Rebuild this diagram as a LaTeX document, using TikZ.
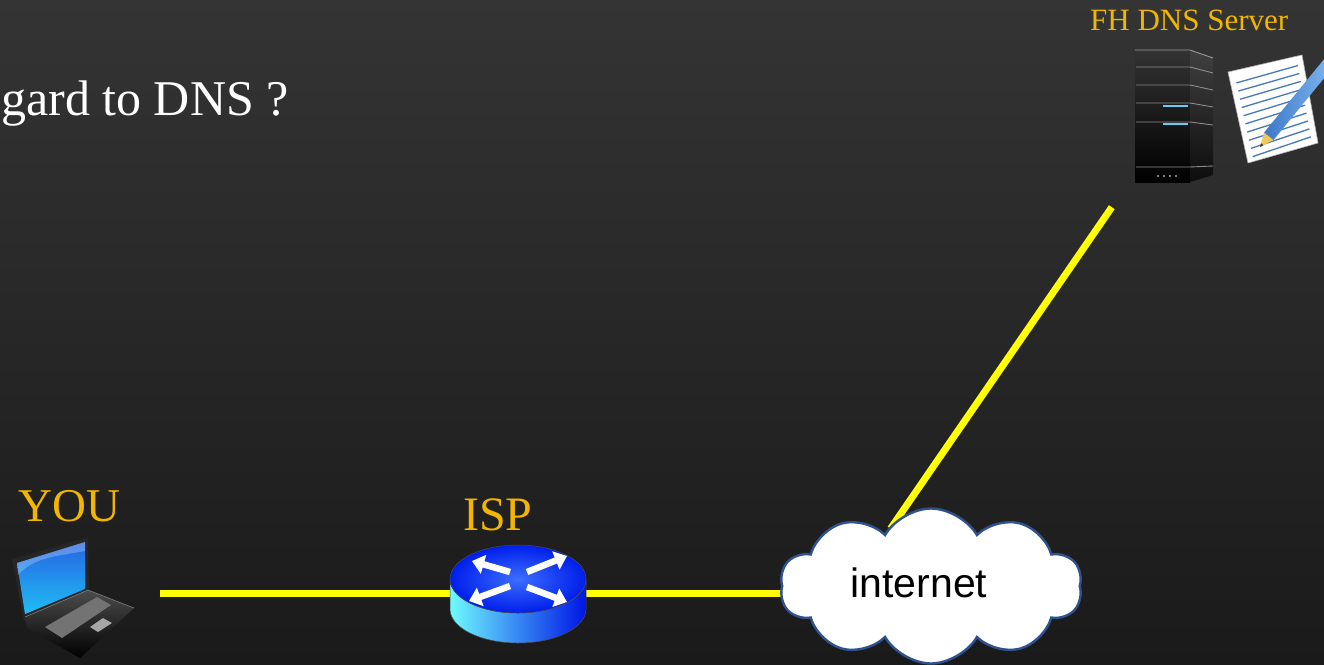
\documentclass[tikz,border=0pt]{standalone}
\usepackage{fontspec}
\setmainfont{Liberation Serif}
\newfontfamily\arialfont{Liberation Sans}
\usetikzlibrary{shapes.symbols,arrows.meta,calc}
\definecolor{gold}{RGB}{242,182,0}
\definecolor{linkyellow}{RGB}{255,255,0}
\definecolor{cloudedge}{RGB}{47,82,143}
\definecolor{notelines}{RGB}{70,120,190}
\definecolor{bgtop}{RGB}{52,52,52}
\definecolor{bgbottom}{RGB}{26,26,26}
\definecolor{screentop}{RGB}{40,100,225}
\definecolor{screenbottom}{RGB}{30,190,245}
\definecolor{routerlight}{RGB}{110,250,255}
\definecolor{routerdark}{RGB}{0,20,230}
\definecolor{routertopin}{RGB}{60,110,255}
\definecolor{routertopout}{RGB}{0,30,235}
\definecolor{pencilwood}{RGB}{240,200,90}
\definecolor{pencillead}{RGB}{60,50,20}
\definecolor{pencildark}{RGB}{60,120,200}
\definecolor{pencillight}{RGB}{130,185,240}
\pgfdeclarelayer{bg}
\pgfsetlayers{bg,main}
\tikzset{
  label/.style={text=gold, inner sep=0pt, anchor=base west},
  link/.style={draw=linkyellow, line width=7pt},
  anchorbox/.style={rectangle, inner sep=0pt, draw=none},
  netcloud/.style={cloud, cloud puffs=10, cloud puff arc=120, aspect=1.95,
    minimum width=302pt, minimum height=155pt, inner sep=0pt,
    fill=white, draw=cloudedge, line width=2.4pt},
  routerarrow/.style={white, line width=6.5pt, -{Triangle[length=12pt,width=19pt]}},
}
\begin{document}
\begin{tikzpicture}[x=1pt,y=-1pt]
\useasboundingbox (0,0) rectangle (1324,664);
\clip (0,0) rectangle (1324,664);
\begin{pgfonlayer}{bg}
  \shade[top color=bgtop, bottom color=bgbottom] (0,0) rectangle (1324,664);
\end{pgfonlayer}

% heading line, running in from the left edge
\node[text=white, inner sep=0pt, anchor=base west, font=\fontsize{50}{54}\selectfont] (title) at (1,115) {gard to DNS ?};

% ---------- laptop ----------
\node[anchorbox, minimum width=148pt, minimum height=104pt] (laptop) at (86,593) {};
\fill[black!85] (12,559) -- (88,537) -- (89,592) -- (24,621) -- cycle;
\shade[top color=screentop, bottom color=screenbottom]
  (17,563) -- (85,542) -- (85,589) -- (25,614) -- cycle;
\fill[white, opacity=0.25] (17,563) -- (85,542) -- (85,551) .. controls (60,556) and (35,556) .. (18,575) -- cycle;
\shade[top color=black!70, bottom color=black] (25,617) -- (88,590) -- (134,608) -- (80,658) -- (27,628) -- cycle;
\draw[black!50, line width=0.6pt] (25,617) -- (88,590) -- (134,608);
\fill[black!55] (45,627) -- (97,597) -- (111,605) -- (62,638) -- cycle;
\fill[black!35] (90,627) -- (103,618) -- (112,623) -- (98,632) -- cycle;
\node[label, font=\fontsize{47}{50}\selectfont] (you) at (18,521) {YOU};

% ---------- router ----------
\node[anchorbox, minimum width=134pt, minimum height=100pt] (router) at (518,593) {};
\shade[left color=routerlight, right color=routerdark, draw=black!70, line width=0.5pt]
  (450,579) -- (450,609) arc[start angle=180, end angle=0, x radius=68, y radius=34]
  -- (586,579) arc[start angle=0, end angle=180, x radius=68, y radius=34] -- cycle;
\shade[inner color=routertopin, outer color=routertopout, draw=black!70, line width=0.5pt]
  (518,579) ellipse[x radius=68, y radius=34];
\draw[routerarrow] (510,572) -- (472,561);
\draw[routerarrow] (527,572) -- (567,556);
\draw[routerarrow] (510,586) -- (469,601);
\draw[routerarrow] (527,587) -- (567,602);
\node[label, font=\fontsize{48}{52}\selectfont] (isp) at (463,530) {ISP};

% ---------- internet cloud ----------
\node[netcloud] (cloud) at (931,586) {};
\node[inner sep=0pt, anchor=base, font=\arialfont\fontsize{41}{45}\selectfont] (net) at (919,597) {internet};

% ---------- DNS server with zone file ----------
\node[anchorbox, minimum width=212pt, minimum height=167pt] (dns) at (1218,123.5) {};
% tower
\shade[top color=black!80, bottom color=black] (1135,50) rectangle (1190,182);
\shade[top color=black!75, bottom color=black!95] (1190,50) -- (1213,58) -- (1213,175) -- (1190,182) -- cycle;
\foreach \yy/\ys in {67/73, 85/90, 103/107, 122/125, 167/166} {
  \draw[black!45, line width=0.9pt] (1136,\yy) -- (1190,\yy) -- (1213,\ys);
}
\draw[black!40, line width=0.9pt] (1135,50) -- (1190,50) -- (1213,58);
\draw[cyan!60!white, line width=1.8pt] (1163,106) -- (1188,106);
\draw[cyan!60!white, line width=1.8pt] (1163,124) -- (1188,124);
\foreach \xx in {1157,1163,1169,1175} { \fill[black!50] (\xx,175) rectangle ++(2,2); }
% zone file sheet
\fill[white, draw=black!30, line width=0.6pt] (1228,72) -- (1302,55) -- (1318,143) -- (1248,163) -- cycle;
\foreach \t in {0.12,0.21,...,0.95} {
  \draw[notelines, line width=1.3pt]
    ($(1228,72)!\t!(1248,163) + (6,0)$) -- ($(1302,55)!\t!(1318,143) + (-6,0)$);
}
% pencil
\fill[pencilwood] (1260,147) -- (1273.5,140) -- (1264.2,132.4) -- cycle;
\fill[pencillead] (1260,147) -- (1263.4,145.2) -- (1261.0,143.3) -- cycle;
\shade[left color=pencildark, right color=pencillight]
  (1264.2,132.4) -- (1273.5,140) -- (1334.3,65.6) -- (1325,58) -- cycle;
\node[label, font=\fontsize{31}{34}\selectfont] (dnslabel) at (1090,30) {FH DNS Server};

% ---------- links ----------
\begin{pgfonlayer}{bg}
  \draw[link] (laptop.east) -- (router.west);
  \draw[link] (router.east) -- (router.east -| cloud.center);
  \draw[link] (dns.south west) -- ($(dns.south west)!1.03!(cloud.117)$);
\end{pgfonlayer}
\end{tikzpicture}
\end{document}
